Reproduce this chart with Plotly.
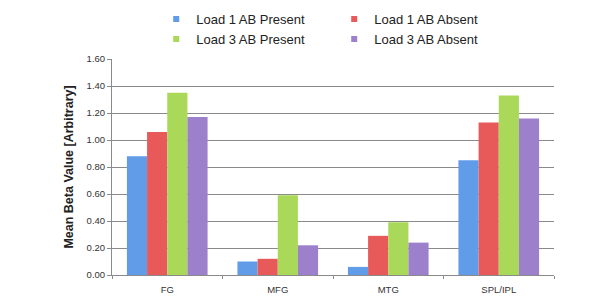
import plotly.graph_objects as go

categories = ["FG", "MFG", "MTG", "SPL/IPL"]
series_names = ["Load 1 AB Present", "Load 1 AB Absent", "Load 3 AB Present", "Load 3 AB Absent"]
load1_present = [0.88, 0.10, 0.06, 0.85]
load1_absent = [1.06, 0.12, 0.29, 1.13]
load3_present = [1.35, 0.59, 0.39, 1.33]
load3_absent = [1.17, 0.22, 0.24, 1.16]
tick_vals = [0.0, 0.2, 0.4, 0.6, 0.8, 1.0, 1.2, 1.4, 1.6]
tick_text = ["0.00", "0.20", "0.40", "0.60", "0.80", "1.00", "1.20", "1.40", "1.60"]

colors = ["#609CE8", "#E85A5A", "#AAD95A", "#9D80CC"]
series = [load1_present, load1_absent, load3_present, load3_absent]

fig = go.Figure()
for name, vals, col in zip(series_names, series, colors):
    fig.add_trace(go.Bar(x=categories, y=vals, name=name, legendgroup=name,
                         showlegend=False,
                         marker=dict(color=col, line=dict(width=0))))
# legend entries with small square keys
for name, col in zip(series_names, colors):
    fig.add_trace(go.Scatter(x=[None], y=[None], name=name, legendgroup=name,
                             mode="markers", showlegend=True,
                             marker=dict(symbol="square", size=6, color=col)))

fig.update_layout(
    width=600, height=296,
    margin=dict(l=104, r=54, t=51, b=29, autoexpand=False),
    paper_bgcolor="white", plot_bgcolor="white",
    barmode="group", bargap=0.27, bargroupgap=0,
    font=dict(family="Liberation Sans, Arial, sans-serif", color="#222222"),
    legend=dict(orientation="h", x=0.10, xanchor="left", y=1.023, yanchor="bottom",
                entrywidth=133, entrywidthmode="pixels", itemwidth=30,
                font=dict(size=13, color="#222222"), tracegroupgap=0,
                itemclick=False, itemdoubleclick=False),
    showlegend=True,
)
fig.update_yaxes(range=[0, 1.6], tickvals=tick_vals, ticktext=tick_text,
                 showgrid=True, gridcolor="#8A8A8A", gridwidth=1,
                 showline=True, linecolor="#8A8A8A", linewidth=1,
                 ticks="outside", ticklen=4, tickcolor="#8A8A8A",
                 tickfont=dict(size=9.5, color="#333333"),
                 title=dict(text="<b>Mean Beta Value [Arbitrary]</b>",
                            font=dict(size=12.5, color="#222222"), standoff=10),
                 zeroline=False)
fig.update_xaxes(showline=True, linecolor="#8A8A8A", linewidth=1,
                 ticks="outside", ticklen=3, tickcolor="#8A8A8A",
                 tickson="boundaries", ticklabelstandoff=6,
                 tickfont=dict(size=9.5, color="#333333"))

fig.write_html("out.html")
